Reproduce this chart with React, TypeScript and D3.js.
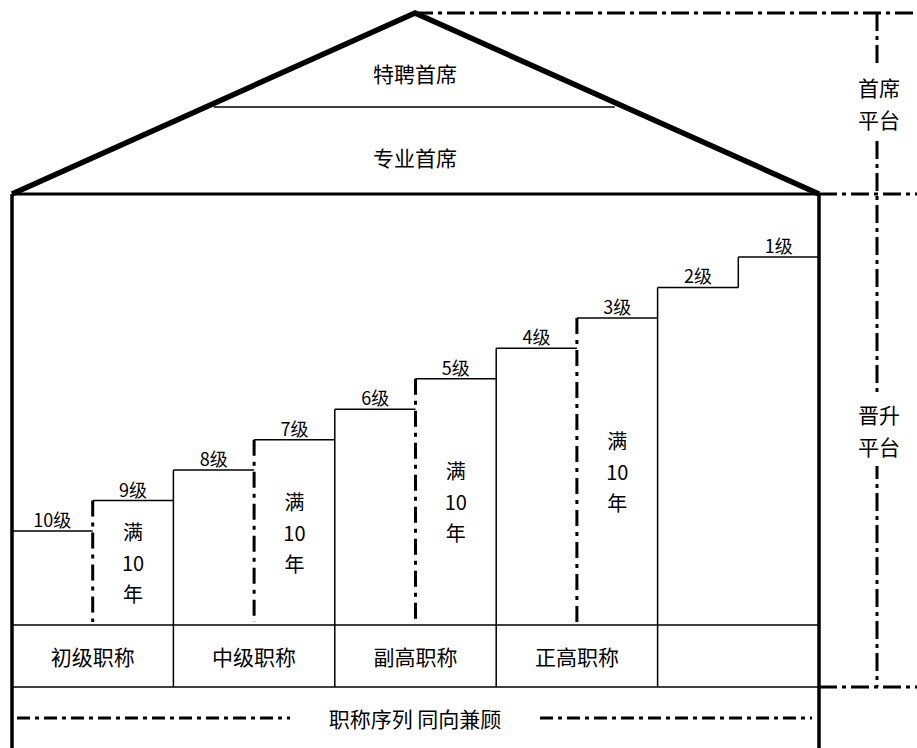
import React, { useEffect, useRef } from 'react';
import * as d3 from 'd3';

// chart content
const levelLabels = ['10级', '9级', '8级', '7级', '6级', '5级', '4级', '3级', '2级', '1级'];
const categoryLabels = ['初级职称', '中级职称', '副高职称', '正高职称', ''];
const tenureLines = ['满', '10', '年'];
const tenureLevels = [1, 3, 5, 7]; // level index where a dashed "满10年" divider sits
const roofLabels = ['特聘首席', '专业首席'];
const sideLabels = [['首席', '平台'], ['晋升', '平台']];
const footerLabel = '职称序列 同向兼顾';

const W = 917;
const H = 748;
const FONT = '"Noto Sans CJK SC", "DejaVu Sans", sans-serif';

const App: React.FC = () => {
  const svgRef = useRef<SVGSVGElement | null>(null);

  useEffect(() => {
    if (!svgRef.current) return;
    const svg = d3.select(svgRef.current);
    svg.selectAll('*').remove();

    const left = 12;
    const right = 819;
    const apex = { x: 415, y: 13 };
    const roofBase = 194;
    const roofMid = 107;
    const catTop = 625;
    const catBottom = 687;
    const sideX = 877;

    const x = d3.scaleLinear().domain([0, levelLabels.length]).range([left, right]);
    const y = d3.scaleLinear().domain([0, levelLabels.length - 1]).range([531, 257]);
    const catX = d3.scaleLinear().domain([0, categoryLabels.length]).range([left, right]);

    const g = svg.append('g');

    // right side dash-dot guides (drawn first so the house covers its joints)
    const dd = '18,5,4,5';
    const side = g.append('g').attr('stroke', '#000').attr('stroke-width', 3).attr('stroke-dasharray', dd).attr('fill', 'none');
    side.append('line').attr('x1', apex.x).attr('y1', apex.y).attr('x2', W).attr('y2', apex.y);
    side.append('line').attr('x1', right).attr('y1', roofBase).attr('x2', W).attr('y2', roofBase);
    side.append('line').attr('x1', right).attr('y1', catBottom).attr('x2', W).attr('y2', catBottom);
    side.append('line').attr('x1', sideX).attr('y1', apex.y).attr('x2', sideX).attr('y2', catBottom);

    const sideCenters = [103, 430];
    sideLabels.forEach((lines, k) => {
      const cy = sideCenters[k];
      g.append('rect').attr('x', sideX - 24).attr('y', cy - 36).attr('width', 48).attr('height', 72).attr('fill', '#fff');
      lines.forEach((t, j) => {
        g.append('text')
          .attr('x', sideX + 2)
          .attr('y', cy + (j - 0.5) * 32)
          .attr('text-anchor', 'middle')
          .attr('dominant-baseline', 'central')
          .style('font-family', FONT)
          .style('font-size', '21px')
          .text(t);
      });
    });

    // roof
    const tAt = (yy: number) => (roofBase - yy) / (roofBase - apex.y);
    const lx = left + (apex.x - left) * tAt(roofMid);
    const rx = right + (apex.x - right) * tAt(roofMid);
    g.append('line').attr('x1', lx + 8).attr('y1', roofMid).attr('x2', rx - 10).attr('y2', roofMid)
      .attr('stroke', '#000').attr('stroke-width', 1.5);
    g.append('path')
      .attr('d', d3.line()([[left, roofBase], [apex.x, apex.y], [right, roofBase]]) as string)
      .attr('fill', 'none').attr('stroke', '#000').attr('stroke-width', 5.5).attr('stroke-linejoin', 'miter');
    g.append('line').attr('x1', left).attr('y1', roofBase).attr('x2', right).attr('y2', roofBase)
      .attr('stroke', '#000').attr('stroke-width', 3);
    [73, 157].forEach((yy, k) => {
      g.append('text')
        .attr('x', apex.x).attr('y', yy)
        .attr('text-anchor', 'middle').attr('dominant-baseline', 'central')
        .style('font-family', FONT).style('font-size', '21px')
        .text(roofLabels[k]);
    });

    // walls
    g.append('line').attr('x1', left).attr('y1', roofBase).attr('x2', left).attr('y2', H).attr('stroke', '#000').attr('stroke-width', 3.5);
    g.append('line').attr('x1', right).attr('y1', roofBase).attr('x2', right).attr('y2', H).attr('stroke', '#000').attr('stroke-width', 3.5);

    // category row
    [catTop, catBottom].forEach((yy) => {
      g.append('line').attr('x1', left).attr('y1', yy).attr('x2', right).attr('y2', yy).attr('stroke', '#000').attr('stroke-width', 1.5);
    });
    categoryLabels.forEach((c, i) => {
      g.append('text')
        .attr('x', (catX(i) + catX(i + 1)) / 2).attr('y', (catTop + catBottom) / 2)
        .attr('text-anchor', 'middle').attr('dominant-baseline', 'central')
        .style('font-family', FONT).style('font-size', '21px')
        .text(c);
    });

    // steps
    levelLabels.forEach((lab, i) => {
      g.append('line').attr('x1', x(i)).attr('y1', y(i)).attr('x2', x(i + 1)).attr('y2', y(i))
        .attr('stroke', '#000').attr('stroke-width', 1.5);
      g.append('text')
        .attr('x', (x(i) + x(i + 1)) / 2).attr('y', y(i) - 4)
        .attr('text-anchor', 'middle')
        .style('font-family', FONT).style('font-size', '18px')
        .text(lab);
      if (i === 0) return;
      if (tenureLevels.includes(i)) {
        g.append('line').attr('x1', x(i)).attr('y1', y(i)).attr('x2', x(i)).attr('y2', catTop - 3)
          .attr('stroke', '#000').attr('stroke-width', 3).attr('stroke-dasharray', '16,6,4,6');
        const cy = (y(i) + catTop) / 2;
        tenureLines.forEach((t, j) => {
          g.append('text')
            .attr('x', (x(i) + x(i + 1)) / 2).attr('y', cy + (j - 1) * 31)
            .attr('text-anchor', 'middle').attr('dominant-baseline', 'central')
            .style('font-family', FONT).style('font-size', '20px')
            .text(t);
        });
      } else if (i === levelLabels.length - 1) {
        g.append('line').attr('x1', x(i)).attr('y1', y(i)).attr('x2', x(i)).attr('y2', y(i - 1))
          .attr('stroke', '#000').attr('stroke-width', 1.5);
      } else {
        g.append('line').attr('x1', x(i)).attr('y1', y(i)).attr('x2', x(i)).attr('y2', catBottom)
          .attr('stroke', '#000').attr('stroke-width', 1.5);
      }
    });

    // footer
    const footY = 718;
    g.append('text')
      .attr('x', apex.x).attr('y', footY)
      .attr('text-anchor', 'middle').attr('dominant-baseline', 'central')
      .style('font-family', FONT).style('font-size', '21px')
      .text(footerLabel);
    [[17, 290], [540, 812]].forEach(([a, b]) => {
      g.append('line').attr('x1', a).attr('y1', footY).attr('x2', b).attr('y2', footY)
        .attr('stroke', '#000').attr('stroke-width', 3).attr('stroke-dasharray', '13,5,4,5');
    });

    return () => { svg.selectAll('*').remove(); };
  }, []);

  return (
    <svg
      ref={svgRef}
      width={W}
      height={H}
      style={{ position: 'absolute', left: 0, top: 0, background: '#fff' }}
    />
  );
};

export default App;
